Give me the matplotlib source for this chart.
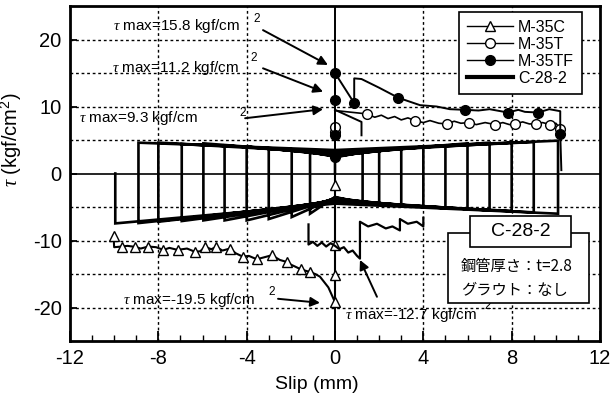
import matplotlib
matplotlib.use("Agg")
import matplotlib.pyplot as plt
from matplotlib.patches import Rectangle
from matplotlib.lines import Line2D

plt.rcParams['font.family'] = ['Liberation Sans', 'DejaVu Sans']
plt.rcParams['mathtext.fontset'] = 'custom'
plt.rcParams['mathtext.rm'] = 'Liberation Sans'
plt.rcParams['mathtext.it'] = 'Liberation Serif:italic'
plt.rcParams['mathtext.bf'] = 'Liberation Sans:bold'
plt.rcParams['axes.unicode_minus'] = False

# ---------------- data ----------------
# C-28-2 cyclic loops (turning points)
c28_pos_amp = [1.25, 2.0, 3.0, 4.0, 5.0, 6.0, 7.0, 8.0, 9.0, 10.1]
c28_neg_amp = [-1.13, -1.96, -3.0, -4.0, -5.0, -5.96, -6.94, -8.0, -8.9, -9.95]
c28_up_right = [3.2, 3.5, 3.75, 4.0, 4.2, 4.5, 4.6, 4.6, 4.7, 4.9]
c28_low_right = [-4.4, -4.6, -4.8, -5.0, -5.2, -5.3, -5.5, -5.6, -5.8, -6.0]
c28_low_left = [-6.0, -6.5, -6.8, -7.0, -7.0, -7.0, -7.1, -7.2, -7.4, -7.45]
c28_up_left = [3.2, 3.5, 3.75, 4.0, 4.2, 4.5, 4.4, 4.6, 4.6, 0.0]
c28_up_mid = [2.4, 2.5, 2.6, 2.7, 2.8, 2.9, 3.0, 3.1, 3.3, 3.5]
c28_low_mid = [-3.5, -3.6, -3.7, -3.8, -3.9, -4.0, -4.1, -4.2, -4.3, -4.5]

# M-35C
m35c_x = [0, 0, 0, 0, 0, -0.3, -0.68, -0.9, -1.13, -1.35, -1.55, -1.8, -2.0, -2.19,
          -2.5, -2.86, -3.2, -3.54, -3.9, -4.18, -4.5, -4.75, -5.1, -5.38, -5.6, -5.88,
          -6.1, -6.33, -6.7, -7.13, -7.5, -7.77, -8.1, -8.45, -8.8, -9.05, -9.4, -9.65,
          -10.0, -10.03]
m35c_y = [0, -1.7, -10.7, -15.2, -19.2, -17.0, -15.4, -15.0, -14.7, -14.5, -14.3, -13.9,
          -13.6, -13.2, -12.9, -12.2, -12.5, -12.8, -12.3, -12.4, -11.9, -11.2, -11.5,
          -10.95, -11.3, -10.95, -11.6, -11.7, -11.2, -11.4, -11.1, -11.4, -11.0, -10.9,
          -11.2, -10.95, -10.8, -10.9, -11.0, -9.3]
m35c_marks = [1, 2, 3, 4, 8, 10, 13, 15, 17, 19, 21, 23, 25, 27, 29, 31, 33, 35, 37, 39]

# M-35T
m35t_x = [0, 0, 0, 0, 1.43, 1.8, 2.1, 2.4, 2.7, 3.0, 3.3, 3.62, 4.0, 4.3, 4.7, 5.05, 5.4,
          5.7, 6.05, 6.4, 6.8, 7.24, 7.6, 7.9, 8.14, 8.5, 8.8, 9.12, 9.4, 9.75, 10.0, 10.2]
m35t_y = [0, 6.2, 7.0, 9.4, 8.9, 8.4, 8.7, 8.2, 8.5, 8.0, 8.3, 7.9, 7.6, 7.9, 7.5, 7.4, 7.8,
          7.5, 7.6, 7.3, 7.6, 7.3, 7.6, 7.3, 7.4, 7.7, 7.4, 7.4, 7.6, 7.3, 7.5, 6.7]
m35t_marks = [1, 2, 4, 11, 15, 18, 21, 24, 27, 29, 31]
m35t_b_x = [0, 1.2, 1.2]
m35t_b_y = [9.5, 7.7, 5.7]
m35t_neg_x = [-1.2, -1.2, -1.0, -0.8, -0.6, -0.4, -0.2, 0.0, 0.2, 0.4, 0.6, 0.8, 1.0, 1.13,
              1.13, 1.5, 1.9, 2.3, 2.6, 2.94, 2.94, 3.3, 3.7, 4.0, 4.0]
m35t_neg_y = [-7.6, -10.6, -10.2, -10.8, -10.3, -10.9, -10.4, -10.8, -11.3, -11.0, -11.8,
              -11.5, -12.3, -12.7, -7.2, -7.9, -7.5, -8.2, -7.9, -8.5, -6.8, -7.5, -7.2,
              -7.9, -6.6]

# M-35TF
m35tf_x = [0, 0, 0, 0, 0, 0.87, 0.87, 1.2, 2.0, 2.87, 3.85, 4.6, 5.2, 5.9, 6.5, 7.0, 7.83,
           8.3, 8.6, 9.2, 9.7, 10.2, 10.2, 10.25]
m35tf_y = [0, 2.5, 5.7, 10.9, 15.0, 10.5, 14.2, 14.1, 12.8, 11.3, 10.2, 10.0, 9.6, 9.5, 9.4,
           9.6, 9.1, 9.5, 9.2, 9.1, 9.6, 9.3, 5.9, 0.5]
m35tf_marks = [1, 2, 3, 4, 5, 9, 13, 16, 19, 22]

x_ticks = [-12, -8, -4, 0, 4, 8, 12]
y_ticks = [-20, -10, 0, 10, 20]

# ---------------- build C-28-2 path from turning points ----------------
c28_x = [0.0, 0.0]
c28_y = [0.0, c28_up_mid[0]]
for k in range(len(c28_pos_amp)):
    c28_x += [c28_pos_amp[k], c28_pos_amp[k], 0.0, c28_neg_amp[k], c28_neg_amp[k]]
    c28_y += [c28_up_right[k], c28_low_right[k], c28_low_mid[k], c28_low_left[k], c28_up_left[k]]
    if k + 1 < len(c28_pos_amp):
        c28_x.append(0.0)
        c28_y.append(c28_up_mid[k + 1])

# ---------------- figure ----------------
fig = plt.figure(figsize=(6.13, 3.99), dpi=100)
ax = fig.add_axes([70 / 613, 1 - 341 / 399, 530 / 613, 335 / 399])
ax.set_xlim(-12, 12)
ax.set_ylim(-25, 25)

for gx in [-8, -4, 4, 8]:
    ax.axvline(gx, color='black', lw=1.0, ls=(0, (2, 2)), zorder=1)
for gy in [-20, -15, -10, -5, 5, 10, 15, 20]:
    ax.axhline(gy, color='black', lw=1.0, ls=(0, (2, 2)), zorder=1)
ax.axhline(0, color='black', lw=1.2, zorder=2)
ax.axvline(0, color='black', lw=1.4, zorder=2)

ax.plot(c28_x, c28_y, color='black', lw=1.9, zorder=3, solid_joinstyle='miter')

ax.plot(m35c_x, m35c_y, color='black', lw=1.5, marker='^', ms=7, mfc='white', mec='black',
        mew=1.0, markevery=m35c_marks, zorder=4)
ax.plot(m35t_x, m35t_y, color='black', lw=1.2, marker='o', ms=7, mfc='white', mec='black',
        mew=1.0, markevery=m35t_marks, zorder=4)
ax.plot(m35t_b_x, m35t_b_y, color='black', lw=1.4, zorder=4)
ax.plot(m35t_neg_x, m35t_neg_y, color='black', lw=1.6, zorder=4)
ax.plot(m35tf_x, m35tf_y, color='black', lw=1.4, marker='o', ms=7, mfc='black', mec='black',
        markevery=m35tf_marks, zorder=5)

# axes styling
for sp in ax.spines.values():
    sp.set_linewidth(2.0)
ax.set_xticks(x_ticks)
ax.set_yticks(y_ticks)
ax.set_xticks(range(-12, 13), minor=True)
ax.tick_params(axis='x', which='major', direction='in', length=7, width=1.3, labelsize=14.5, pad=6)
ax.tick_params(axis='x', which='minor', direction='in', length=4, width=1.0)
ax.tick_params(axis='y', which='major', direction='in', length=5, width=1.3, labelsize=14.5, pad=6)
ax.set_xlabel('Slip (mm)', fontsize=14)
ax.xaxis.set_label_coords(0.465, -0.105)
ax.set_ylabel(r'$\tau$ (kgf/cm$^{2}$)', fontsize=14.5)
ax.yaxis.set_label_coords(-0.086, 0.6)

# legend
handles = [
    Line2D([], [], color='black', lw=1.0, marker='^', ms=7, mfc='white', mec='black'),
    Line2D([], [], color='black', lw=1.0, marker='o', ms=7, mfc='white', mec='black'),
    Line2D([], [], color='black', lw=1.0, marker='o', ms=7, mfc='black', mec='black'),
    Line2D([], [], color='black', lw=3.0),
]
leg = ax.legend(handles, ['M-35C', 'M-35T', 'M-35TF', 'C-28-2'], loc='upper right',
                bbox_to_anchor=(0.966, 0.982), fontsize=11.5, frameon=True, fancybox=False,
                edgecolor='black', framealpha=1, labelspacing=0.12, handlelength=2.9,
                handletextpad=0.3, borderpad=0.5, borderaxespad=0)
leg.get_frame().set_linewidth(1.2)
leg.set_zorder(10)

# annotations
arrow = dict(arrowstyle='-|>', lw=1.4, color='black', mutation_scale=14, shrinkA=0, shrinkB=0)
ann = [
    (r'$\tau$ max=15.8 kgf/cm', (-10.05, 22.0), (-3.55, 23.0), (-3.26, 21.4), (-0.32, 16.2)),
    (r'$\tau$ max=11.2 kgf/cm', (-10.1, 15.7), (-3.7, 17.2), (-3.26, 15.7), (-0.54, 12.2)),
    (r'$\tau$ max=9.3 kgf/cm', (-11.6, 8.25), (-4.2, 9.0), (-4.07, 8.25), (-0.54, 9.6)),
    (r'$\tau$ max=-19.5 kgf/cm', (-9.6, -18.9), (-2.85, -17.7), (-2.58, -18.7), (-0.68, -19.3)),
    (r'$\tau$ max=-12.7 kgf/cm', (0.45, -21.1), (6.9, -19.8), (1.9, -18.4), (1.13, -12.9)),
]
for txt, tpos, spos, tail, head in ann:
    ax.text(tpos[0], tpos[1], txt, fontsize=11, ha='left', va='center', zorder=6)
    ax.text(spos[0], spos[1], '2', fontsize=8.5, ha='center', va='center', zorder=6)
    ax.annotate('', xy=head, xytext=tail, arrowprops=arrow, zorder=6)

# specimen info boxes
ax.add_patch(Rectangle((0.713, 0.113), 0.266, 0.209, transform=ax.transAxes,
                       facecolor='white', edgecolor='black', lw=1.2, zorder=8))
ax.add_patch(Rectangle((0.755, 0.281), 0.190, 0.092, transform=ax.transAxes,
                       facecolor='white', edgecolor='black', lw=1.2, zorder=9))
ax.text(0.85, 0.327, 'C-28-2', transform=ax.transAxes, fontsize=14, ha='center',
        va='center', zorder=10)
jp = ['Noto Sans CJK JP', 'DejaVu Sans']
ax.text(0.738, 0.222, '鋼管厚さ：t=2.8', transform=ax.transAxes, fontsize=11,
        family=jp, ha='left', va='center', zorder=10)
ax.text(0.738, 0.152, 'グラウト：なし', transform=ax.transAxes, fontsize=11,
        family=jp, ha='left', va='center', zorder=10)

fig.savefig('out.png', dpi=100)
